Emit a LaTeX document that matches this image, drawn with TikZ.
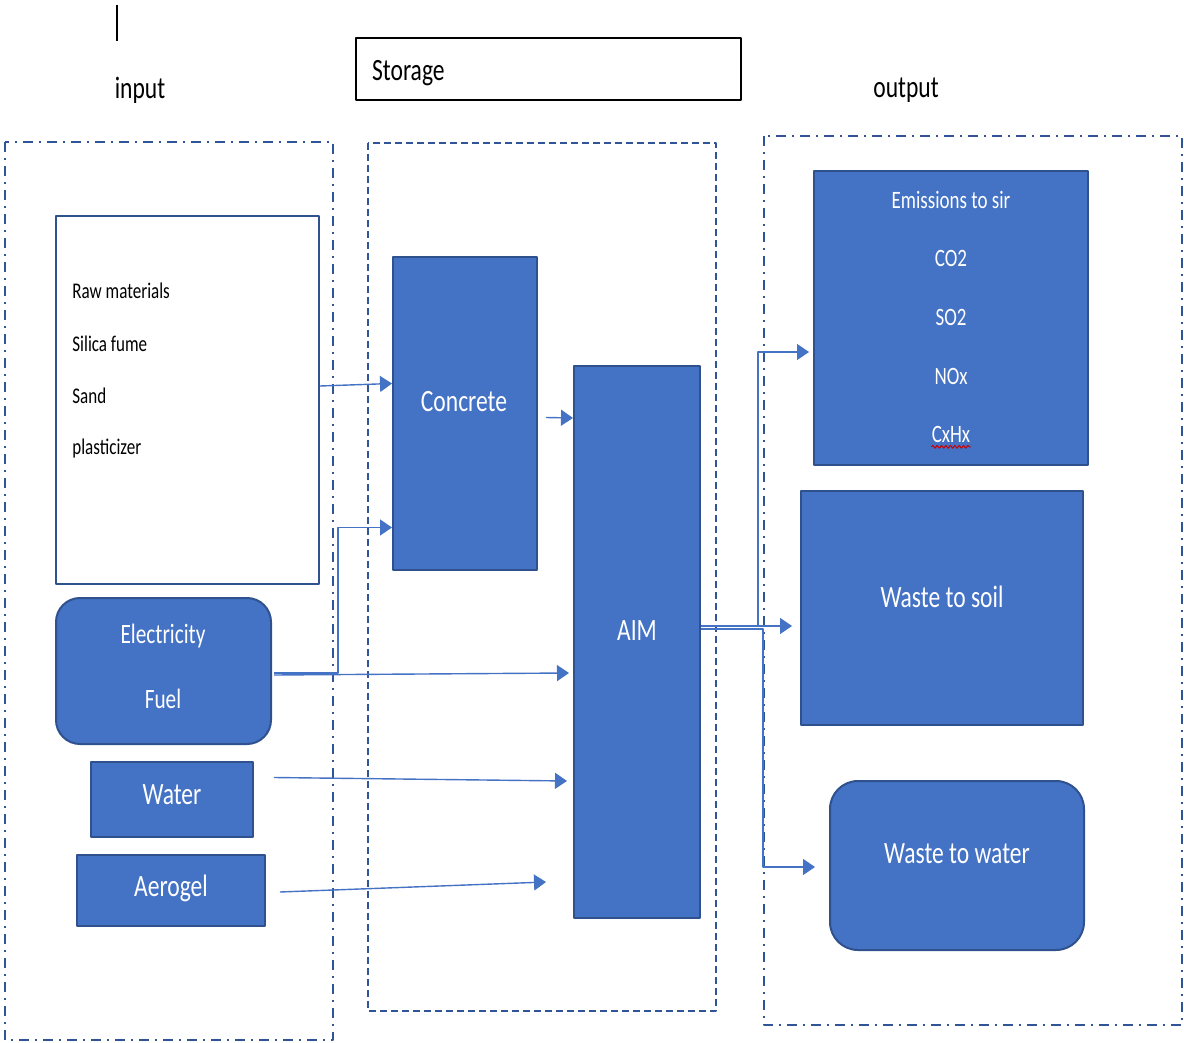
\documentclass[tikz,border=0pt]{standalone}
\usepackage{fontspec}
\setmainfont{Carlito}[FakeStretch=0.76]
\usetikzlibrary{arrows.meta,fit,decorations.pathmorphing}
\definecolor{boxfill}{HTML}{4472C4}
\definecolor{boxline}{HTML}{2F528F}
\definecolor{framec}{HTML}{2F5597}
\newcommand{\bigtxt}{\fontsize{15.5}{18}\selectfont}
\newcommand{\midtxt}{\fontsize{14}{16}\selectfont}
\newcommand{\smalltxt}{\fontsize{12.5}{15}\selectfont}
\newcommand{\tinytxt}{\fontsize{11.2}{13}\selectfont}
\tikzset{
  blockbox/.style={draw=boxline, fill=boxfill, line width=1pt, inner sep=0pt},
  listbox/.style={draw=boxline, fill=white, line width=1pt, inner sep=0pt},
  wlabel/.style={text=white, font=\bigtxt, inner sep=0pt},
  blabel/.style={text=black, font=\bigtxt, inner sep=0pt},
  flow/.style={draw=boxfill, line width=0.7pt, -{Triangle[length=6pt,width=8pt]}},
  dashdot frame/.style={draw=framec, line width=1pt, dash pattern=on 5pt off 3pt on 1pt off 3pt},
  dash frame/.style={draw=framec, line width=1pt, dash pattern=on 3.5pt off 2pt},
  spell/.style={draw=red!80!black, line width=0.5pt, decorate, decoration={snake, amplitude=0.7pt, segment length=2.2pt}}
}
\begin{document}
\begin{tikzpicture}[x=0.5pt, y=-0.5pt, line join=round]
\useasboundingbox (0,0) rectangle (1184,1043);

% headings
\draw[line width=0.6pt] (117,5) -- (117,41);
\node[blabel] (inlbl) at (140,90) {input};
\node[blabel] (outlbl) at (906,90) {output};
\node[draw=black, line width=1.3pt, inner sep=0pt, fit={(356,38) (741,100)}] (storage) {};
\node[blabel, anchor=west] at ([xshift=8.5pt,yshift=-2pt]storage.west) {Storage};

% group frames
\draw[dashdot frame] (5,142) rectangle (333,1040);
\draw[dash frame] (368,143) rectangle (716,1011);
\draw[dashdot frame] (764,136) rectangle (1182,1025);

% inputs
\node[listbox, fit={(56,216) (319,584)}] (raw) {};
\foreach \t [count=\i] in {Raw materials, Silica fume, Sand, plasticizer}
  \node[inner sep=0pt, font=\tinytxt, anchor=west] (raw\i) at (72,{238+52.7*\i}) {\t};

\node[blockbox, rounded corners=12pt, fit={(56,598) (271,744)}] (elec) {};
\node[wlabel, font=\midtxt] at (163,636) {Electricity};
\node[wlabel, font=\midtxt] at (163,699) {Fuel};

\node[blockbox, fit={(91,762) (253,837)}] (water) {};
\node[wlabel] at (172,795) {Water};

\node[blockbox, fit={(77,855) (265,926)}] (aerogel) {};
\node[wlabel] at (171,888) {Aerogel};

% storage
\node[blockbox, fit={(393,257) (537,570)}] (concrete) {};
\node[wlabel] at (464,402) {Concrete};

\node[blockbox, fit={(574,366) (700,918)}] (aim) {};
\node[wlabel] at (637,631) {AIM};

% outputs
\node[blockbox, fit={(814,171) (1088,465)}] (emis) {};
\foreach \t [count=\i] in {Emissions to sir, CO2, SO2, NOx, CxHx}
  \node[wlabel, font=\smalltxt] (em\i) at (951,{141.3+58.7*\i}) {\t};
\draw[spell] ([yshift=-2pt]em5.base west) -- ([yshift=-2pt]em5.base east);

\node[blockbox, fit={(801,491) (1083,725)}] (soil) {};
\node[wlabel] at (942,597) {Waste to soil};

\node[blockbox, rounded corners=14pt, fit={(830,781) (1084,950)}] (wwater) {};
\node[wlabel] at (957,854) {Waste to water};

% flows
\draw[flow] ([yshift=7pt]raw.east) -- ([yshift=15pt]concrete.west);
\draw[flow] ([xshift=1pt,yshift=-1pt]elec.east) -- ++(64,0) |- ([yshift=-57pt]concrete.west);
\draw[flow] ([xshift=1pt,yshift=-2pt]elec.east) -- ([xshift=-2pt,yshift=-15.5pt]aim.west);
\draw[flow] ([xshift=4pt,yshift=-2pt]concrete.east) -- ([yshift=112]aim.west);
\draw[flow] ([xshift=10pt,yshift=11pt]water.east) -- ([xshift=-3pt,yshift=-69.5pt]aim.west);
\draw[flow] ([xshift=7pt,yshift=-0.75pt]aerogel.east) -- ([xshift=-13.5pt,yshift=-120pt]aim.west);
\draw[flow] ([yshift=8pt]aim.east) -- ++(57,0) |- ([xshift=-2pt,yshift=-17pt]emis.west);
\draw[flow] ([yshift=8pt]aim.east) -- ([xshift=-4pt,yshift=-9pt]soil.west);
\draw[flow] ([yshift=6.5pt]aim.east) -- ++(62,0) |- ([xshift=-7pt,yshift=-0.75pt]wwater.west);
\end{tikzpicture}
\end{document}
